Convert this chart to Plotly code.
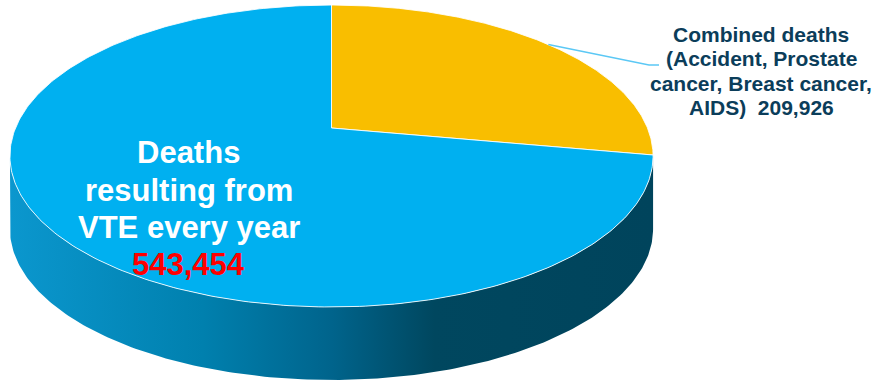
import numpy as np
import plotly.graph_objects as go

# ---- data ----
labels = ["Combined deaths (Accident, Prostate cancer, Breast cancer, AIDS)",
          "Deaths resulting from VTE every year"]
values = [209926, 543454]
top_colors = ["#F9BE00", "#00B0F0"]
side_scales = [
    [[0, "#D9A400"], [1, "#8A6A00"]],
    [[0, "#0B97CE"], [0.3, "#0080AE"], [0.5, "#00648C"], [0.66, "#00475F"], [1, "#00445C"]],
]
label_lines_right = ["Combined deaths", "(Accident, Prostate",
                     "cancer, Breast cancer,", "AIDS)  209,926"]
label_lines_left = ["Deaths", "resulting from", "VTE every year"]
label_value_left = "543,454"

# ---- geometry (layout / style) ----
W, H = 876, 383
CX, CY0 = 331.5, 128.0      # projected pie centre
RX0 = 316.0
A, B, C = 128.0, -122.07, 0.1854   # perspective mapping of depth coordinate
DEPTH = 73.0


def proj(theta_deg, dz=0.0):
    t = np.radians(theta_deg)
    u, v = np.sin(t), np.cos(t)
    den = 1 + C * v
    x = CX + RX0 * u / den
    y = (A + B * v) / den + dz
    return x, y


total = float(sum(values))
starts, ends = [], []
acc = 0.0
for val in values:
    starts.append(acc / total * 360)
    acc += val
    ends.append(acc / total * 360)

fig = go.Figure()

# side faces (visible front portion)
th_r = np.degrees(np.arccos(-C))
th_l = 360 - th_r
for i in range(len(values)):
    a = max(starts[i], th_r)
    b = min(ends[i], th_l)
    if b <= a:
        continue
    th = np.linspace(a, b, 200)
    xt, yt = proj(th)
    xb, yb = proj(th[::-1], DEPTH)
    xs = np.concatenate([xt, xb, xt[:1]])
    ys = np.concatenate([yt, yb, yt[:1]])
    fig.add_trace(go.Scatter(
        x=xs, y=ys, mode="lines", fill="toself",
        line=dict(width=0, color="rgba(0,0,0,0)"),
        fillgradient=dict(type="horizontal", colorscale=side_scales[i]),
        hoverinfo="skip", showlegend=False))

# top faces
for i in range(len(values)):
    th = np.linspace(starts[i], ends[i], 300)
    xa, ya = proj(th)
    xs = np.concatenate([[CX], xa, [CX]])
    ys = np.concatenate([[CY0], ya, [CY0]])
    fig.add_trace(go.Scatter(
        x=xs, y=ys, mode="lines", fill="toself", fillcolor=top_colors[i],
        line=dict(width=1, color="rgba(255,255,255,0.85)"),
        hoverinfo="skip", showlegend=False))

# leader line for the first slice
mid = (starts[0] + ends[0]) / 2
lx, ly = proj(mid)
fig.add_trace(go.Scatter(
    x=[lx, 649, 659], y=[ly, 65, 65], mode="lines",
    line=dict(width=1.3, color="#5BC8F5"),
    hoverinfo="skip", showlegend=False))

annotations = []
for k, line in enumerate(label_lines_right):
    annotations.append(dict(
        x=761, y=34.5 + k * 24.3, xref="x", yref="y", text=f"<b>{line}</b>",
        showarrow=False, xanchor="center", yanchor="middle",
        font=dict(family="Liberation Sans, Arial", size=21, color="#0B3D5A")))
for k, line in enumerate(label_lines_left):
    annotations.append(dict(
        x=188.5, y=152.5 + k * 37.5, xref="x", yref="y", text=f"<b>{line}</b>",
        showarrow=False, xanchor="center", yanchor="middle",
        font=dict(family="Liberation Sans, Arial", size=31, color="#FFFFFF")))
annotations.append(dict(
    x=188.5, y=264, xref="x", yref="y", text=f"<b>{label_value_left}</b>",
    showarrow=False, xanchor="center", yanchor="middle",
    font=dict(family="Liberation Sans, Arial", size=31, color="#FF0000")))

fig.update_layout(
    width=W, height=H, margin=dict(l=0, r=0, t=0, b=0),
    paper_bgcolor="white", plot_bgcolor="white",
    xaxis=dict(range=[0, W], visible=False, fixedrange=True),
    yaxis=dict(range=[H, 0], visible=False, fixedrange=True),
    annotations=annotations, showlegend=False,
)

fig.write_html("out.html", config={"displayModeBar": False})
